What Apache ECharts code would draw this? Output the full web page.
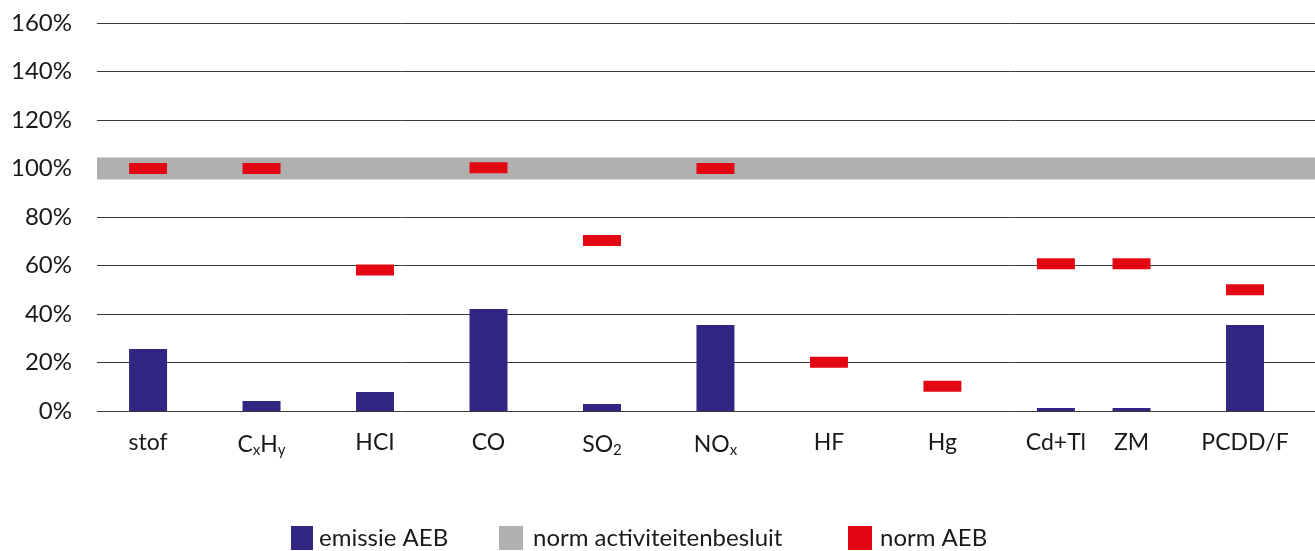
<!DOCTYPE html>
<html>
<head>
<meta charset="utf-8">
<script src="https://cdn.jsdelivr.net/npm/echarts@6/dist/echarts.min.js"></script>
<style>
html,body{margin:0;padding:0;background:#fff;}
#chart{width:1315px;height:551px;}
</style>
</head>
<body>
<div id="chart"></div>
<script>
// ---- data ----
const categories = ['stof', 'CxHy', 'HCI', 'CO', 'SO2', 'NOx', 'HF', 'Hg', 'Cd+Tl', 'ZM', 'PCDD/F'];
const emissieAEB = [25.6, 4.1, 7.8, 42.1, 2.9, 35.5, null, null, 1.2, 1.2, 35.5];
const normAEB = [100, 100, 58.1, 100.3, 70.3, 100, 20.1, 10.2, 60.7, 60.7, 50];
const normActiviteitenbesluitBand = [95.5, 104.5];
const yTicks = [0, 20, 40, 60, 80, 100, 120, 140, 160];
const seriesNames = ['emissie AEB', 'norm activiteitenbesluit', 'norm AEB'];

// ---- layout (slot index of each category along x) ----
const slots = [0, 3, 6, 9, 12, 15, 18, 21, 24, 26, 29];

const labelRich = {
  'CxHy': 'C{s|x}H{s|y}',
  'SO2': 'SO{s|2}',
  'NOx': 'NO{s|x}'
};

const barData = [];
const markerData = [];
categories.forEach((c, i) => {
  if (emissieAEB[i] != null) barData.push([slots[i], emissieAEB[i]]);
  if (normAEB[i] != null) markerData.push([slots[i], normAEB[i]]);
});

const textColor = '#1a1a1a';
const font = 'Lato, "Noto Sans", sans-serif';

function legendFor(name, left, w, pad) {
  return {
    data: [name],
    left: left,
    top: 526,
    icon: 'rect',
    itemWidth: w,
    itemHeight: 24,
    padding: 0,
    textStyle: { fontFamily: font, fontSize: 24, lineHeight: 24, color: textColor, padding: [0, 0, 0, pad] }
  };
}

const chart = echarts.init(document.getElementById('chart'));
chart.setOption({
  animation: false,
  backgroundColor: '#fff',
  textStyle: { fontFamily: font, color: textColor },
  grid: { left: 97, right: 0, top: 23, bottom: 140, containLabel: false },
  legend: [
    legendFor(seriesNames[0], 291, 22, 1),
    legendFor(seriesNames[1], 499, 24, 5),
    legendFor(seriesNames[2], 848, 24, 3)
  ],
  xAxis: {
    type: 'value',
    min: -1.35,
    max: 30.85,
    axisLine: { show: false },
    axisTick: { show: false },
    splitLine: { show: false },
    axisLabel: {
      customValues: slots,
      margin: 20,
      fontFamily: font,
      fontSize: 23,
      color: textColor,
      formatter: function (v) {
        const idx = slots.indexOf(Math.round(v));
        if (idx < 0) return '';
        const name = categories[idx];
        return labelRich[name] || name;
      },
      rich: {
        s: { fontSize: 15, fontFamily: font, color: textColor, padding: [12, 0, 0, 0] }
      }
    }
  },
  yAxis: {
    type: 'value',
    min: 0,
    max: 160,
    interval: 20,
    axisLine: { show: false },
    axisTick: { show: false },
    axisLabel: {
      margin: 25,
      fontFamily: font,
      fontSize: 24,
      color: textColor,
      formatter: function (v) { return yTicks.indexOf(v) >= 0 ? v + '%' : ''; }
    },
    splitLine: { show: true, lineStyle: { color: '#3a3a3a', width: 1 } }
  },
  series: [
    {
      name: seriesNames[0],
      type: 'bar',
      z: 3,
      barWidth: 38,
      itemStyle: { color: '#312783' },
      data: barData
    },
    {
      name: seriesNames[1],
      type: 'line',
      z: 1,
      data: [],
      itemStyle: { color: '#b0b0b0' },
      lineStyle: { color: '#b0b0b0' },
      showSymbol: false,
      markArea: {
        silent: true,
        itemStyle: { color: '#b0b0b0', opacity: 1 },
        data: [[{ yAxis: normActiviteitenbesluitBand[0] }, { yAxis: normActiviteitenbesluitBand[1] }]]
      }
    },
    {
      name: seriesNames[2],
      type: 'scatter',
      z: 5,
      symbol: 'rect',
      symbolSize: [38, 11],
      itemStyle: { color: '#e30613', opacity: 1 },
      data: markerData
    }
  ]
});
</script>
</body>
</html>
